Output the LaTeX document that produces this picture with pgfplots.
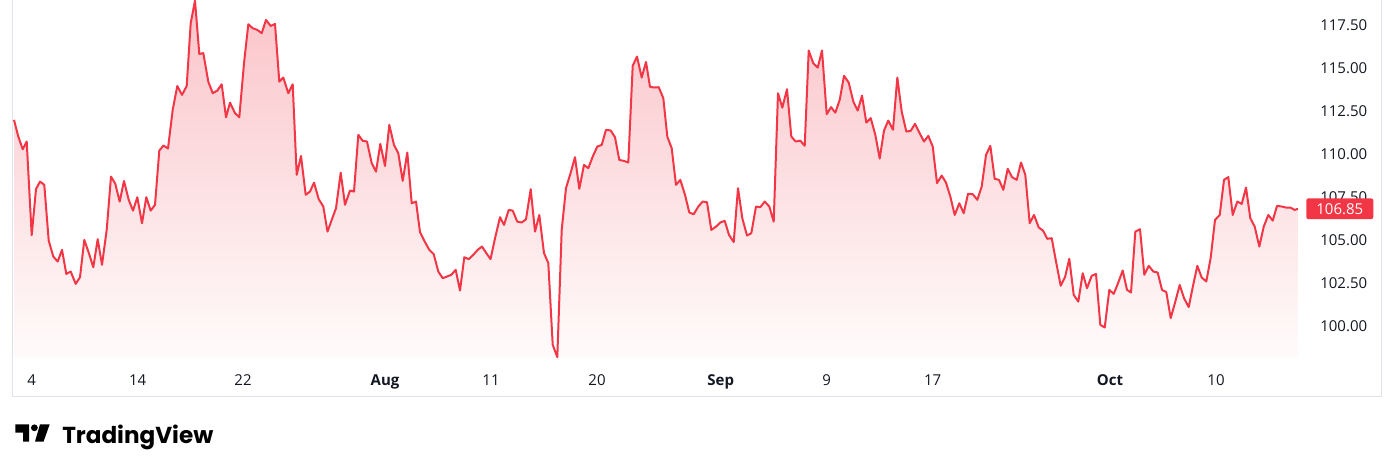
\documentclass[border=0pt]{standalone}
\usepackage{fontspec}
\setmainfont{Open Sans}
\newfontfamily\logofont{Poppins}
\usepackage{graphicx}
\usepackage{pgfplots}
\usepackage{pgfplotstable}
\pgfplotsset{compat=1.18}
\definecolor{tvred}{RGB}{242,54,69}
\definecolor{tvtext}{RGB}{19,23,34}
\definecolor{tvborder}{RGB}{224,227,235}
\definecolor{tvtop}{RGB}{250,196,201}
\definecolor{tvbot}{RGB}{255,251,251}
\pgfplotstableread{
x y
14 112.02
18.3 111.05
22.7 110.31
26.7 110.76
31.7 105.31
36 107.99
40 108.43
44.3 108.24
48.7 105.00
53.3 104.07
57.7 103.78
62 104.46
66.3 103.06
70.7 103.20
75.7 102.48
80 102.87
84.3 105.04
88.7 104.30
93.3 103.45
97.7 105.08
102 103.59
106.7 105.62
111 108.72
115.3 108.30
119.7 107.27
124 108.47
128.7 107.37
133 106.74
137.3 107.52
142 106.01
146.3 107.52
150.7 106.74
155 107.08
159.3 110.23
163.5 110.53
168 110.35
172.7 112.60
177.3 113.99
182 113.47
186.7 113.99
190.7 117.64
195 118.95
199.3 115.85
203.3 115.90
208.3 114.24
212.7 113.57
217.3 113.72
221.7 114.09
226 112.17
230 113.02
235 112.41
239.3 112.17
244 115.31
248.3 117.58
252.7 117.35
257.3 117.25
261.7 117.06
266 117.83
270.7 117.48
275 117.60
279.3 114.24
283.3 114.48
288.3 113.57
292.7 114.09
296.7 108.82
301 109.92
305.7 107.66
310 107.85
314 108.37
318.7 107.41
323.3 106.98
327.5 105.52
331.7 106.20
336 106.88
340.7 108.95
345 107.08
350 107.91
354 107.85
358.3 111.15
362.7 110.80
367 110.76
371.7 109.50
376 109.01
380.3 110.62
385 109.34
389.3 111.73
394 110.56
398.3 110.08
402.7 108.47
407.3 110.12
411.7 107.17
416 107.27
420 105.49
425 104.91
429.3 104.46
433.7 104.21
438.3 103.20
442.7 102.81
447 102.91
451.3 103.01
455.7 103.30
460 102.09
464.3 104.03
468.7 103.92
473.3 104.17
477.7 104.46
482 104.65
486.3 104.27
490.5 103.92
495.3 105.20
500 106.36
504 105.91
508.7 106.78
512.7 106.74
517.3 106.10
521.7 106.05
526 106.24
530.7 107.99
535 105.52
539.3 106.49
544 104.27
548.3 103.69
552.7 98.94
557.3 98.22
561.7 105.62
566 108.05
570.7 108.95
575 109.85
579.3 108.01
584 109.40
588.3 109.21
592.7 109.88
597.3 110.47
601.7 110.56
606 111.44
610.7 111.40
615 111.01
619.3 109.69
624 109.63
628.3 109.54
632.7 115.16
637 115.70
641.7 114.48
646 115.39
650 113.94
654.3 113.90
658.7 113.92
663.3 113.28
667.3 111.05
671.7 110.37
676 108.24
680.3 108.53
685 107.66
689.3 106.63
693.7 106.53
698.3 106.98
702.7 107.27
707 107.23
711.3 105.62
716 105.81
720.3 106.05
724.7 106.15
729 105.33
733.7 104.91
738 108.05
742.3 106.30
747 105.29
751.3 105.43
756 106.98
760.3 106.94
764.7 107.27
769.3 106.98
773.7 106.10
778 113.57
782.3 112.73
787 113.80
791.3 111.05
795.7 110.76
800.3 110.81
804.7 110.51
808.7 116.05
813.3 115.31
817.7 115.06
822 116.05
826.7 112.35
831 112.76
835.3 112.44
839.7 113.18
844 114.58
848.7 114.19
853.3 113.08
857.7 112.56
862 113.43
866.3 111.86
870.7 112.12
875.3 111.15
879.7 109.77
884 111.40
888.3 111.98
893 111.44
897.3 114.48
901.7 112.50
906.3 111.34
910.7 111.38
915 111.79
919.3 111.28
924 110.76
928.3 111.09
932.7 110.47
937 108.34
941.7 108.78
946 108.37
950.3 107.56
954.7 106.49
959.3 107.17
963.7 106.59
968 107.72
972.7 107.70
977.3 107.37
981.7 108.14
986 109.98
990.3 110.51
994.7 108.59
999 108.53
1003.3 107.95
1007.7 109.17
1012 108.69
1016.7 108.53
1021 109.54
1025.3 108.82
1029.7 106.01
1034 106.49
1038.7 105.76
1043 105.58
1047.3 105.10
1051.7 105.14
1056 103.78
1060.7 102.37
1065 102.87
1069.3 103.94
1073.7 101.84
1078.3 101.45
1082.7 103.10
1087 102.23
1091.7 102.95
1096 103.06
1100.3 100.10
1104.7 99.94
1109.3 102.13
1113.7 101.90
1118 102.52
1122.7 103.26
1127 102.13
1131 101.98
1135.3 105.52
1140 105.66
1144.3 103.01
1148.7 103.53
1153.3 103.20
1157.7 103.14
1162 102.13
1166.3 102.00
1170.7 100.49
1175.3 101.45
1179.7 102.42
1184 101.65
1188.7 101.13
1193 102.37
1197.3 103.53
1201.7 102.85
1206.3 102.62
1210.7 104.01
1215 106.20
1219.7 106.49
1224 108.53
1228.3 108.69
1232.7 106.49
1237.3 107.27
1241.7 107.13
1246 108.08
1250.3 106.30
1254.7 105.81
1259.3 104.65
1263.7 105.81
1268.3 106.49
1272.7 106.16
1277 107.02
1281.7 106.98
1286 106.92
1290.3 106.92
1294.7 106.78
1298 106.85
}\data
\begin{document}
\begin{tikzpicture}
\path[use as bounding box] (0,0) rectangle (1045.5pt,354pt);
\begin{axis}[
  at={(9.75pt,85.5pt)}, anchor=south west,
  width=963.75pt, height=268.5pt, scale only axis,
  xmin=13, xmax=1298, ymin=98.17, ymax=118.99,
  axis line style={draw=none},
  major tick length=0pt,
  xtick={31.7,137.7,243,385,491,597,720.7,826.7,932.7,1110,1216},
  xticklabels={4,14,22,\textbf{Aug},11,20,\textbf{Sep},9,17,\textbf{Oct},10},
  ytick={100,102.5,105,107.5,110,112.5,115,117.5},
  yticklabel pos=right,
  yticklabel={\pgfmathprintnumber[fixed,fixed zerofill,precision=2,assume math mode=true]{\tick}},
  y tick label style={anchor=west, inner sep=0pt, xshift=16.5pt},
  x tick label style={anchor=base, inner sep=0pt, yshift=-20.25pt},
  tick label style={font=\fontsize{11.25}{13}\selectfont, text=tvtext},
  clip=true,
]
\addplot[draw=none, top color=tvtop, bottom color=tvbot, forget plot]
  table[x=x,y=y] {\data} -- (axis cs:1298,98.17) -- (axis cs:14,98.17) -- cycle;
\addplot[tvred, line width=1.5pt, line join=round, mark=none]
  table[x=x,y=y] {\data};
\coordinate (pl) at (axis cs:1298,106.85);
\end{axis}
\node[fill=tvred, text=white, rounded corners=1.5pt, anchor=west, inner sep=0pt,
  minimum width=50.25pt, minimum height=15.5pt, xshift=6pt,
  font=\fontsize{11.25}{13}\selectfont] at (pl) {106.85};
\begin{scope}[x=0.75pt,y=0.75pt]
\draw[tvborder, line width=0.75pt] (12.7,472) -- (12.7,75.3) -- (1381.7,75.3) -- (1381.7,472);
\fill[black] (15.3,47.7) -- (29,47.7) -- (29,30.3) -- (23,30.3) -- (23,39.3) -- (15.3,39.3) -- cycle;
\fill[black] (34.4,44.2) circle (3.4);
\fill[black] (40,47.7) -- (49.7,47.7) -- (43.5,30.3) -- (35,30.3) -- cycle;
\node[anchor=base west, inner sep=0pt, text=black] at (62,28.7)
  {\resizebox{113.25pt}{!}{\logofont\bfseries TradingView}};
\end{scope}
\end{tikzpicture}
\end{document}
